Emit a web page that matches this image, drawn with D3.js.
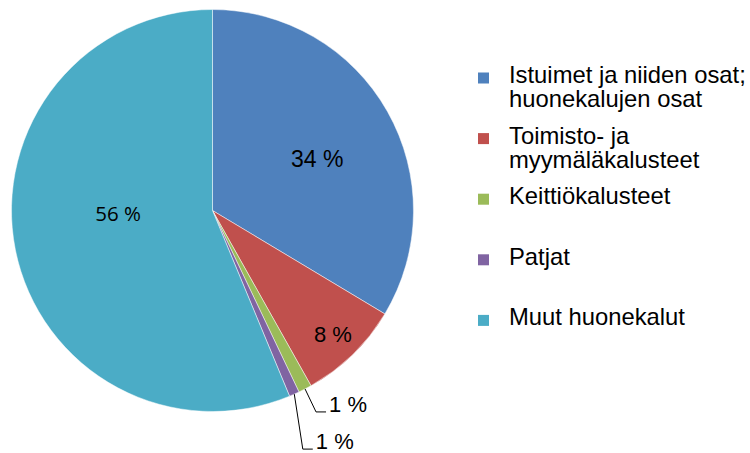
<!DOCTYPE html>
<html>
<head>
<meta charset="utf-8">
<script src="https://cdn.jsdelivr.net/npm/d3@7"></script>
<style>
  body { margin: 0; background: #fff; }
  svg { display: block; }
</style>
</head>
<body>
<div id="chart"></div>
<script>
const categories = [
  ["Istuimet ja niiden osat;", "huonekalujen osat"],
  ["Toimisto- ja", "myymäläkalusteet"],
  ["Keittiökalusteet"],
  ["Patjat"],
  ["Muut huonekalut"]
];
const values = [33.6, 8.25, 1.07, 0.82, 56.26];
const labels = ["34 %", "8 %", "1 %", "1 %", "56 %"];
const colors = ["#4F81BD", "#C0504D", "#9BBB59", "#8064A2", "#4BACC6"];

function drawPie() {
  const width = 750;
  const height = 453;
  const cx = 212.5, cy = 210.5, radius = 201;

  const svg = d3.select("#chart")
    .append("svg")
    .attr("width", width)
    .attr("height", height);

  const data = values.map((v, i) => ({
    name: categories[i], value: v, label: labels[i], color: colors[i]
  }));

  const pie = d3.pie().sort(null).value(d => d.value);
  const arcs = pie(data);
  const arc = d3.arc().innerRadius(0).outerRadius(radius);

  const g = svg.append("g").attr("transform", `translate(${cx},${cy})`);

  g.selectAll("path")
    .data(arcs)
    .join("path")
    .attr("d", arc)
    .attr("fill", d => d.data.color)
    .attr("stroke", "#ffffff")
    .attr("stroke-opacity", 0.6)
    .attr("stroke-width", 0.8);

  // inside labels: angle override (deg, null = mid angle), radius fraction, font
  const inside = {
    0: { angle: 64, r: 0.58, font: "Liberation Sans, Arial, sans-serif", size: 23 },
    1: { angle: null, r: 0.86, font: "Liberation Sans, Arial, sans-serif", size: 22 },
    4: { angle: 268.5, r: 0.47, font: "Open Sans, sans-serif", size: 20.5 }
  };

  const mid = d => (d.startAngle + d.endAngle) / 2;

  arcs.forEach((d, i) => {
    const o = inside[i];
    if (!o) return;
    const a = o.angle == null ? mid(d) : o.angle * Math.PI / 180;
    const r = o.r * radius;
    g.append("text")
      .attr("x", r * Math.sin(a))
      .attr("y", -r * Math.cos(a))
      .attr("text-anchor", "middle")
      .attr("dominant-baseline", "central")
      .style("font-family", o.font)
      .style("font-size", o.size + "px")
      .attr("fill", "#000")
      .text(d.data.label);
  });

  // outside labels with leader lines: elbow offset from the slice edge
  const outside = {
    2: { dx: 11, dy: 23, run: 10 },
    3: { dx: 8.5, dy: 55, run: 10 }
  };

  arcs.forEach((d, i) => {
    const o = outside[i];
    if (!o) return;
    const a = mid(d);
    const x0 = radius * Math.sin(a), y0 = -radius * Math.cos(a);
    const x1 = x0 + o.dx, y1 = y0 + o.dy;
    const x2 = x1 + o.run;
    g.append("path")
      .attr("d", `M${x0},${y0}L${x1},${y1}L${x2},${y1}`)
      .attr("fill", "none")
      .attr("stroke", "#000")
      .attr("stroke-width", 1);
    g.append("text")
      .attr("x", x2 + 3)
      .attr("y", y1)
      .style("font-family", "Liberation Sans, Arial, sans-serif")
      .style("font-size", "22px")
      .attr("fill", "#000")
      .text(d.data.label);
  });

  // legend
  const legendX = 478, legendY0 = 78, step = 60.6;
  const legend = svg.append("g");
  data.forEach((d, i) => {
    const y = legendY0 + i * step;
    legend.append("rect")
      .attr("x", legendX)
      .attr("y", y - 5.5)
      .attr("width", 11)
      .attr("height", 11)
      .attr("fill", d.color);
    const t = legend.append("text")
      .attr("x", legendX + 31)
      .attr("y", y + 5)
      .style("font-family", "Liberation Sans, Arial, sans-serif")
      .style("font-size", "23.8px")
      .attr("fill", "#000");
    d.name.forEach((line, j) => {
      t.append("tspan")
        .attr("x", legendX + 31)
        .attr("dy", j === 0 ? 0 : 24)
        .text(line);
    });
  });
}

drawPie();
</script>
</body>
</html>
